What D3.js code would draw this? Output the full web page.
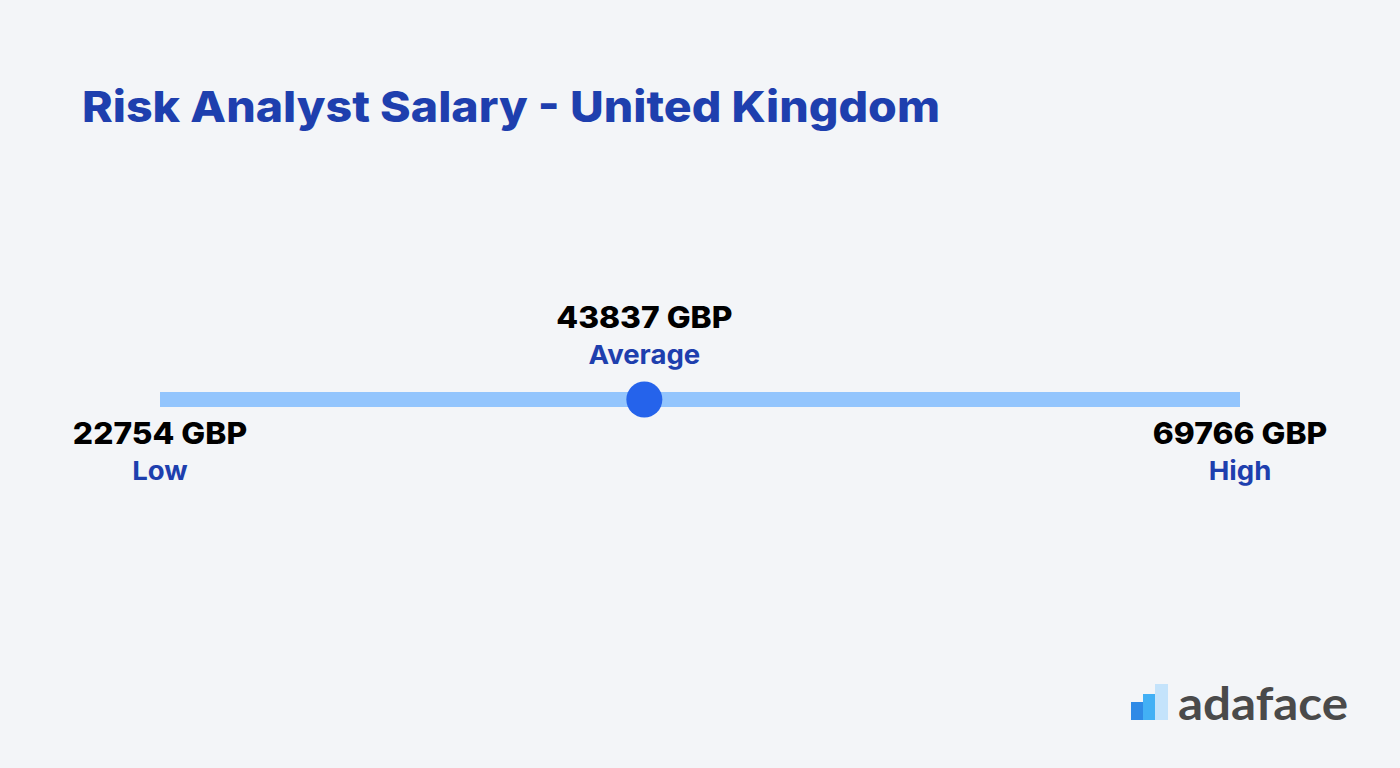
<!DOCTYPE html>
<html><head><meta charset="utf-8">
<script src="https://cdn.jsdelivr.net/npm/d3@7"></script>
<style>html,body{margin:0;padding:0;background:#f3f5f8;}svg{display:block;}</style>
</head><body>
<script>
const title = "Risk Analyst Salary - United Kingdom";
const labels = ["Low", "Average", "High"];
const values = [22754, 43837, 69766];
const unit = "GBP";

const W = 1400, H = 768;
const svg = d3.select("body").append("svg").attr("width", W).attr("height", H);
svg.append("rect").attr("width", W).attr("height", H).attr("fill", "#f3f5f8");

const font = "Inter, 'Open Sans', sans-serif";
svg.append("text").attr("x", 82).attr("y", 122).text(title)
  .attr("font-family", font).attr("font-weight", 800).attr("font-size", 43)
  .attr("fill", "#1e3fae").attr("textLength", 858).attr("lengthAdjust", "spacingAndGlyphs");

const x = d3.scaleLinear().domain([d3.min(values), d3.max(values)]).range([160, 1240]);
const yBar = 399.5;
svg.append("rect").attr("x", x(values[0])).attr("y", yBar - 7.5)
  .attr("width", x(values[2]) - x(values[0])).attr("height", 15).attr("fill", "#93c5fd");

svg.append("circle").attr("cx", x(values[1])).attr("cy", yBar).attr("r", 18).attr("fill", "#2563eb");

const sx = 1.06;
values.forEach((v, i) => {
  const above = i === 1;
  const yv = above ? 328 : 444;
  const yl = above ? 364 : 480;
  const g = svg.append("g").attr("transform", `translate(${x(v)},0) scale(${sx},1)`);
  g.append("text").attr("x", 0).attr("y", yv).attr("text-anchor", "middle")
    .attr("font-family", font).attr("font-weight", 800).attr("font-size", 30)
    .attr("fill", "#000").text(v + " " + unit);
  g.append("text").attr("x", 0).attr("y", yl).attr("text-anchor", "middle")
    .attr("font-family", font).attr("font-weight", 700).attr("font-size", 26)
    .attr("fill", "#1e3fae").text(labels[i]);
});

// logo
const lg = svg.append("g");
lg.append("rect").attr("x", 1131).attr("y", 702).attr("width", 12).attr("height", 18).attr("fill", "#2f8ae6");
lg.append("rect").attr("x", 1143).attr("y", 694).attr("width", 12).attr("height", 26).attr("fill", "#42b0f5");
lg.append("rect").attr("x", 1155).attr("y", 684).attr("width", 13).attr("height", 36).attr("fill", "#c4e3fb");
lg.append("text").attr("x", 1178).attr("y", 720).text("adaface")
  .attr("font-family", "Lato, 'Open Sans', sans-serif").attr("font-weight", 700).attr("font-size", 45)
  .attr("fill", "#4a4a4a").attr("textLength", 170).attr("lengthAdjust", "spacingAndGlyphs");
</script>
</body></html>
